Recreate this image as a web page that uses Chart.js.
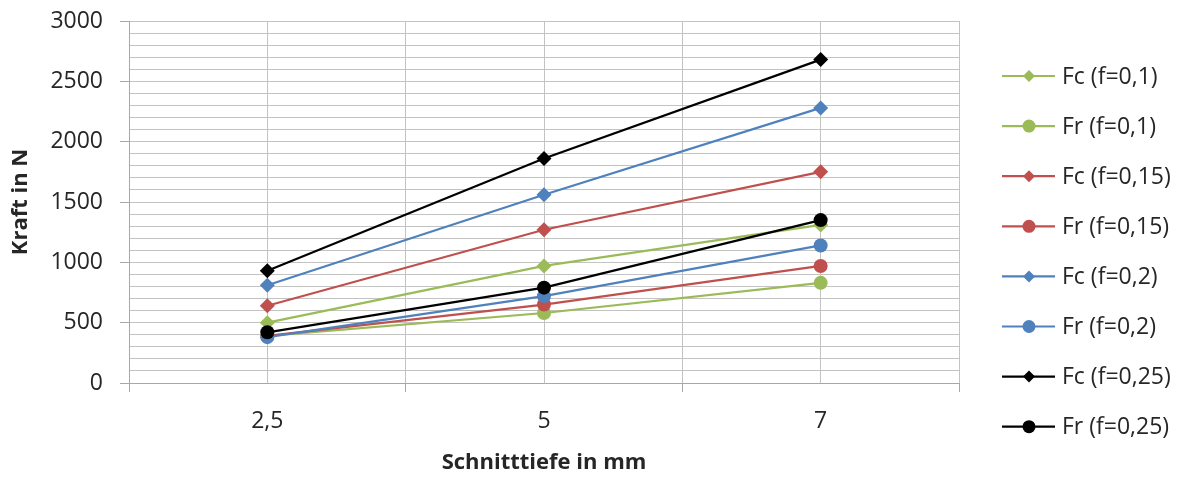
<!DOCTYPE html>
<html>
<head>
<meta charset="utf-8">
<script src="https://cdn.jsdelivr.net/npm/chart.js@4"></script>
<style>
  html, body { margin: 0; padding: 0; background: #ffffff; }
  #wrap { width: 1189px; height: 479px; position: relative; }
</style>
</head>
<body>
<div id="wrap"><canvas id="c"></canvas></div>
<script>
// Schnitttiefe categories (mm)
const depths = ['2,5', '5', '7'];

// Cutting force Fc and radial force Fr per feed f (N)
const fcF010 = [500, 970, 1310];
const frF010 = [390, 580, 830];
const fcF015 = [640, 1270, 1750];
const frF015 = [390, 650, 970];
const fcF020 = [810, 1560, 2280];
const frF020 = [380, 720, 1140];
const fcF025 = [930, 1860, 2680];
const frF025 = [420, 790, 1350];

const seriesNames = ['Fc (f=0,1)', 'Fr (f=0,1)', 'Fc (f=0,15)', 'Fr (f=0,15)',
                     'Fc (f=0,2)', 'Fr (f=0,2)', 'Fc (f=0,25)', 'Fr (f=0,25)'];
const seriesValues = [fcF010, frF010, fcF015, frF015, fcF020, frF020, fcF025, frF025];
const seriesColors = ['#9bbb59', '#9bbb59', '#c0504d', '#c0504d',
                      '#4f81bd', '#4f81bd', '#000000', '#000000'];
const seriesMarkers = ['rectRot', 'circle', 'rectRot', 'circle',
                       'rectRot', 'circle', 'rectRot', 'circle'];

// Labelled y ticks
const yTickLabels = [0, 500, 1000, 1500, 2000, 2500, 3000];

const FONT = '"Open Sans", "DejaVu Sans", sans-serif';
const GRID = '#c3c3c3';
const AXIS = '#a8a8a8';
const TEXT = '#262626';

const datasets = seriesValues.map((vals, i) => ({
  label: seriesNames[i],
  data: depths.map((d, j) => ({ x: j, y: vals[j] })),
  borderColor: seriesColors[i],
  backgroundColor: seriesColors[i],
  borderWidth: 2.2,
  pointStyle: seriesMarkers[i],
  pointRadius: seriesMarkers[i] === 'circle' ? 7 : 7.5,
  pointBorderWidth: 0,
  pointHoverRadius: 7,
  tension: 0,
  order: seriesValues.length - i
}));

// Legend on the right: line with marker, then label
const sideLegend = {
  id: 'sideLegend',
  afterDraw(chart) {
    const ctx = chart.ctx;
    const x0 = 1002, x1 = 1055, xm = 1029, xt = 1062;
    const y0 = 76, dy = 50.1;
    ctx.save();
    ctx.font = '23px ' + FONT;
    ctx.textBaseline = 'middle';
    ctx.textAlign = 'left';
    chart.data.datasets.forEach((ds, i) => {
      const y = y0 + i * dy;
      ctx.strokeStyle = ds.borderColor;
      ctx.lineWidth = 2.2;
      ctx.beginPath();
      ctx.moveTo(x0, y);
      ctx.lineTo(x1, y);
      ctx.stroke();
      ctx.fillStyle = ds.backgroundColor;
      ctx.beginPath();
      if (ds.pointStyle === 'circle') {
        ctx.arc(xm, y, 6.5, 0, Math.PI * 2);
      } else {
        const r = 6;
        ctx.moveTo(xm, y - r);
        ctx.lineTo(xm + r, y);
        ctx.lineTo(xm, y + r);
        ctx.lineTo(xm - r, y);
        ctx.closePath();
      }
      ctx.fill();
      ctx.fillStyle = TEXT;
      ctx.fillText(ds.label, xt, y + 1);
    });
    ctx.restore();
  }
};

new Chart(document.getElementById('c'), {
  type: 'line',
  data: { datasets },
  options: {
    responsive: true,
    maintainAspectRatio: false,
    animation: false,
    events: [],
    layout: { padding: { left: 0, top: 21, right: 230, bottom: 0 } },
    plugins: {
      legend: { display: false },
      tooltip: { enabled: false }
    },
    scales: {
      x: {
        type: 'linear',
        min: -0.5,
        max: depths.length - 0.5,
        afterFit(scale) {
          scale.height = 96;
          scale.paddingLeft = 0;
          scale.paddingRight = 0;
        },
        ticks: {
          stepSize: 0.5,
          autoSkip: false,
          maxRotation: 0,
          padding: 16,
          color: TEXT,
          font: { family: FONT, size: 23 },
          callback: (v) => Number.isInteger(v) ? depths[v] : ''
        },
        grid: {
          color: GRID,
          lineWidth: 1,
          tickLength: 9,
          tickColor: (c) => (c.tick && Number.isInteger(c.tick.value)) ? 'rgba(0,0,0,0)' : AXIS
        },
        border: { color: AXIS, width: 1 },
        title: {
          display: true,
          text: 'Schnitttiefe in mm',
          color: TEXT,
          font: { family: FONT, size: 22, weight: 'bold' },
          padding: { top: 0, bottom: 3 }
        }
      },
      y: {
        min: 0,
        max: 3000,
        afterFit(scale) {
          scale.width = 129;
          scale.paddingTop = 0;
          scale.paddingBottom = 0;
        },
        ticks: {
          stepSize: 100,
          autoSkip: false,
          padding: 17,
          color: TEXT,
          font: { family: FONT, size: 23 },
          callback: (v) => yTickLabels.includes(v) ? String(v) : ''
        },
        grid: {
          color: GRID,
          lineWidth: 1,
          tickLength: 9,
          tickColor: (c) => (c.tick && yTickLabels.includes(c.tick.value)) ? AXIS : 'rgba(0,0,0,0)'
        },
        border: { color: AXIS, width: 1 },
        title: {
          display: true,
          text: 'Kraft in N',
          color: TEXT,
          font: { family: FONT, size: 22, weight: 'bold' },
          padding: { top: 8, bottom: 0 }
        }
      }
    }
  },
  plugins: [sideLegend]
});
</script>
</body>
</html>
